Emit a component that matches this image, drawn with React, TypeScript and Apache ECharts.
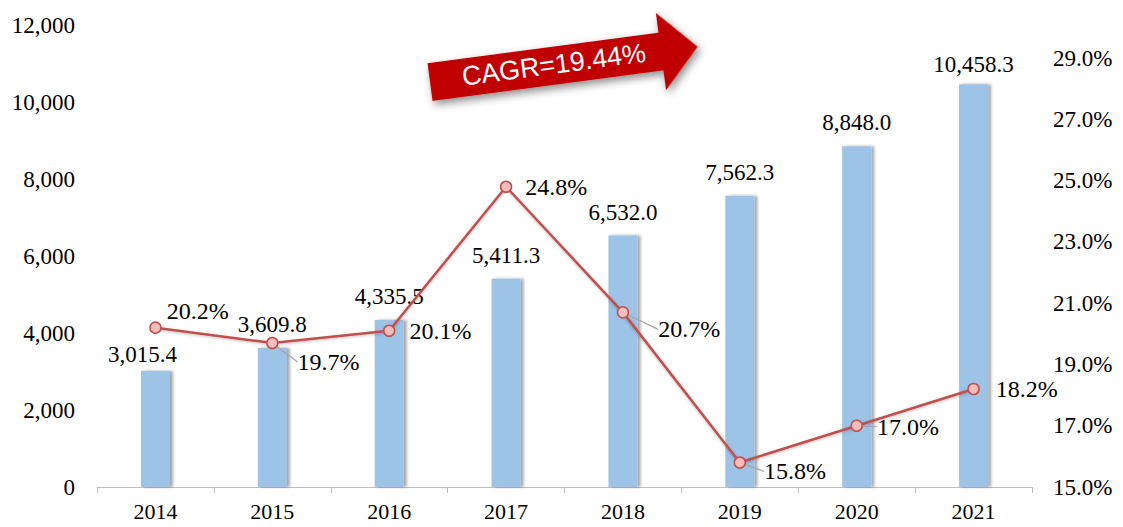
import React, { useEffect, useRef } from "react";
import * as echarts from "echarts";

const years = ["2014", "2015", "2016", "2017", "2018", "2019", "2020", "2021"];
const revenue = [3015.4, 3609.8, 4335.5, 5411.3, 6532.0, 7562.3, 8848.0, 10458.3];
const growth = [20.2, 19.7, 20.1, 24.8, 20.7, 15.8, 17.0, 18.2];
const cagrText = "CAGR=19.44%";

// label placement tweaks (style only)
const lineLabelOffsets: [number, number][] = [
  [0, -17], [14, 19], [9, 0], [8, 0], [24, 17], [13, 9], [9, 1], [11, 0],
];
const lineLabelLeader = [false, true, false, false, true, true, true, false];
const barLabelDistances = [5, 12, 12, 12, 12, 12, 12, 8];
const barLabelDx = [-13, 0, 0, 0, 0, 0, 0, 0];

const FONT = "'Liberation Serif', 'Times New Roman', serif";

export default function App() {
  const ref = useRef<HTMLDivElement>(null);
  useEffect(() => {
    if (!ref.current) return;
    const chart = echarts.init(ref.current, undefined, { renderer: "svg" });
    const fmtNum = (v: number) =>
      v.toLocaleString("en-US", { minimumFractionDigits: 1, maximumFractionDigits: 1 });

    const arrowPts = [
      [-115, -19], [118, -19], [118, -39], [155, 0], [118, 39], [118, 19], [-115, 19],
    ];

    chart.setOption({
      animation: false,
      backgroundColor: "#fff",
      grid: { left: 97, right: 91, top: 25, bottom: 40 },
      xAxis: {
        type: "category",
        data: years,
        axisLine: { lineStyle: { color: "#BFBFBF", width: 1 } },
        axisTick: { show: true, length: 6, lineStyle: { color: "#BFBFBF" } },
        axisLabel: { fontFamily: FONT, fontSize: 22, color: "#000", margin: 13 },
      },
      yAxis: [
        {
          type: "value",
          min: 0,
          max: 12000,
          interval: 2000,
          splitLine: { show: false },
          axisLine: { show: false },
          axisTick: { show: false },
          axisLabel: {
            fontFamily: FONT,
            fontSize: 23,
            color: "#000",
            margin: 22,
            formatter: (v: number) => v.toLocaleString("en-US"),
          },
        },
        {
          type: "value",
          min: 15,
          max: 30.08,
          interval: 1,
          splitLine: { show: false },
          axisLine: { show: false },
          axisTick: { show: false },
          axisLabel: {
            fontFamily: FONT,
            fontSize: 23,
            color: "#000",
            margin: 21,
            showMaxLabel: false,
            formatter: (v: number) =>
              Number.isInteger(v) && v % 2 === 1 ? v.toFixed(1) + "%" : "",
          },
        },
      ],
      series: [
        {
          type: "bar",
          yAxisIndex: 0,
          barWidth: 29,
          data: revenue.map((v, i) => ({
            value: v,
            label: { distance: barLabelDistances[i], offset: [barLabelDx[i], 0] },
          })),
          itemStyle: {
            color: "#9DC3E6",
            shadowColor: "rgba(0,0,0,0.35)",
            shadowBlur: 3,
            shadowOffsetX: 3,
            shadowOffsetY: 0,
          },
          label: {
            show: true,
            position: "top",
            fontFamily: FONT,
            fontSize: 23,
            color: "#000",
            formatter: (p: any) => fmtNum(p.value),
          },
        },
        {
          type: "line",
          yAxisIndex: 1,
          data: growth.map((v, i) => ({
            value: v,
            label: { offset: lineLabelOffsets[i] },
            labelLine: { show: lineLabelLeader[i] },
          })),
          symbol: "circle",
          symbolSize: 11,
          lineStyle: {
            color: "#C0504D",
            width: 2.5,
            shadowColor: "rgba(0,0,0,0.25)",
            shadowBlur: 3,
            shadowOffsetY: 1,
          },
          itemStyle: { color: "#F7BCBC", borderColor: "#C0504D", borderWidth: 1.5 },
          label: {
            show: true,
            position: "right",
            distance: 5,
            align: "left",
            verticalAlign: "middle",
            fontFamily: FONT,
            fontSize: 24,
            color: "#000",
            formatter: (p: any) => p.value.toFixed(1) + "%",
          },
          labelLine: { show: true, lineStyle: { color: "#A6A6A6", width: 1.2 } },
          z: 5,
        },
      ],
      graphic: [
        {
          type: "group",
          x: 544,
          y: 67,
          rotation: (7.5 * Math.PI) / 180,
          children: [
            {
              type: "polygon",
              shape: { points: arrowPts },
              style: {
                fill: "#C00000",
                shadowColor: "rgba(0,0,0,0.45)",
                shadowBlur: 8,
                shadowOffsetX: 2,
                shadowOffsetY: 4,
              },
            },
            {
              type: "text",
              x: 10,
              y: -1,
              style: {
                text: cagrText,
                fill: "#fff",
                font: "27px 'Liberation Sans', Arial, sans-serif",
                align: "center",
                verticalAlign: "middle",
              },
            },
          ],
        },
      ],
    });
    return () => chart.dispose();
  }, []);
  return (
    <div
      ref={ref}
      style={{ position: "fixed", left: 0, top: 0, width: 1123, height: 527 }}
    />
  );
}
